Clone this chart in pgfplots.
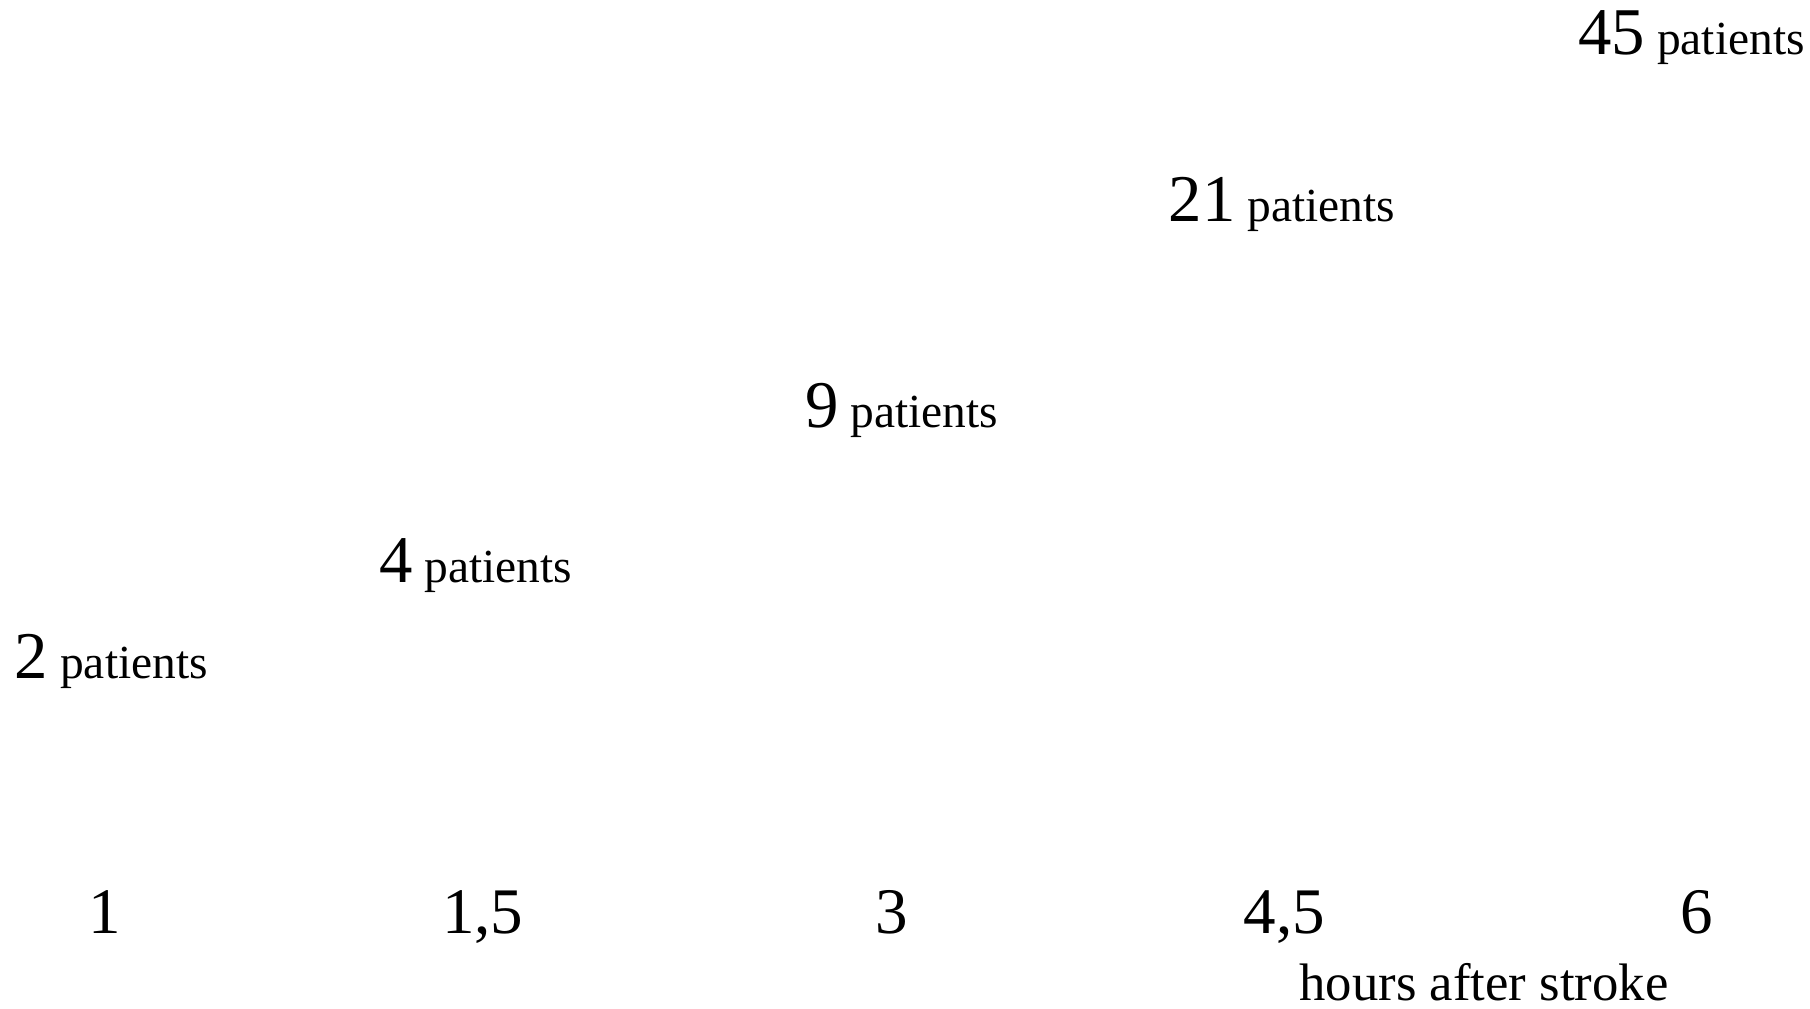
\documentclass[border=0pt]{standalone}
\usepackage{pgfplots}
\pgfplotsset{compat=1.18}
\usepackage{fontspec}
\setmainfont{Liberation Serif}
\begin{document}
\begin{tikzpicture}
\begin{axis}[scale only axis, width=18.1cm, height=10.09cm,
  xmin=0, xmax=1560, ymin=0, ymax=870, hide axis, clip=false]
\addplot[draw=none, mark=none, point meta=explicit symbolic,
  nodes near coords={\fontsize{19}{22}\selectfont\pgfplotspointmeta\fontsize{13.5}{16}\selectfont\ patients},
  every node near coord/.style={anchor=base, inner sep=0pt}]
  table[meta=n] {
x y n
96 285 2
410 368 4
777 501 9
1105 679 21
1458 823 45
};
\addplot[draw=none, mark=none, point meta=explicit symbolic,
  nodes near coords={\fontsize{18.5}{22}\selectfont\pgfplotspointmeta},
  every node near coord/.style={anchor=base, inner sep=0pt}]
  table[meta=t] {
x y t
90 65 1
416 65 1,5
769 65 3
1107 65 4,5
1462 65 6
};
\node[inner sep=0pt, anchor=base, font=\fontsize{15}{18}\selectfont] at (axis cs:1279,7) {hours after stroke};
\path (axis cs:0,0) rectangle (axis cs:1560,870);
\end{axis}
\end{tikzpicture}
\end{document}
